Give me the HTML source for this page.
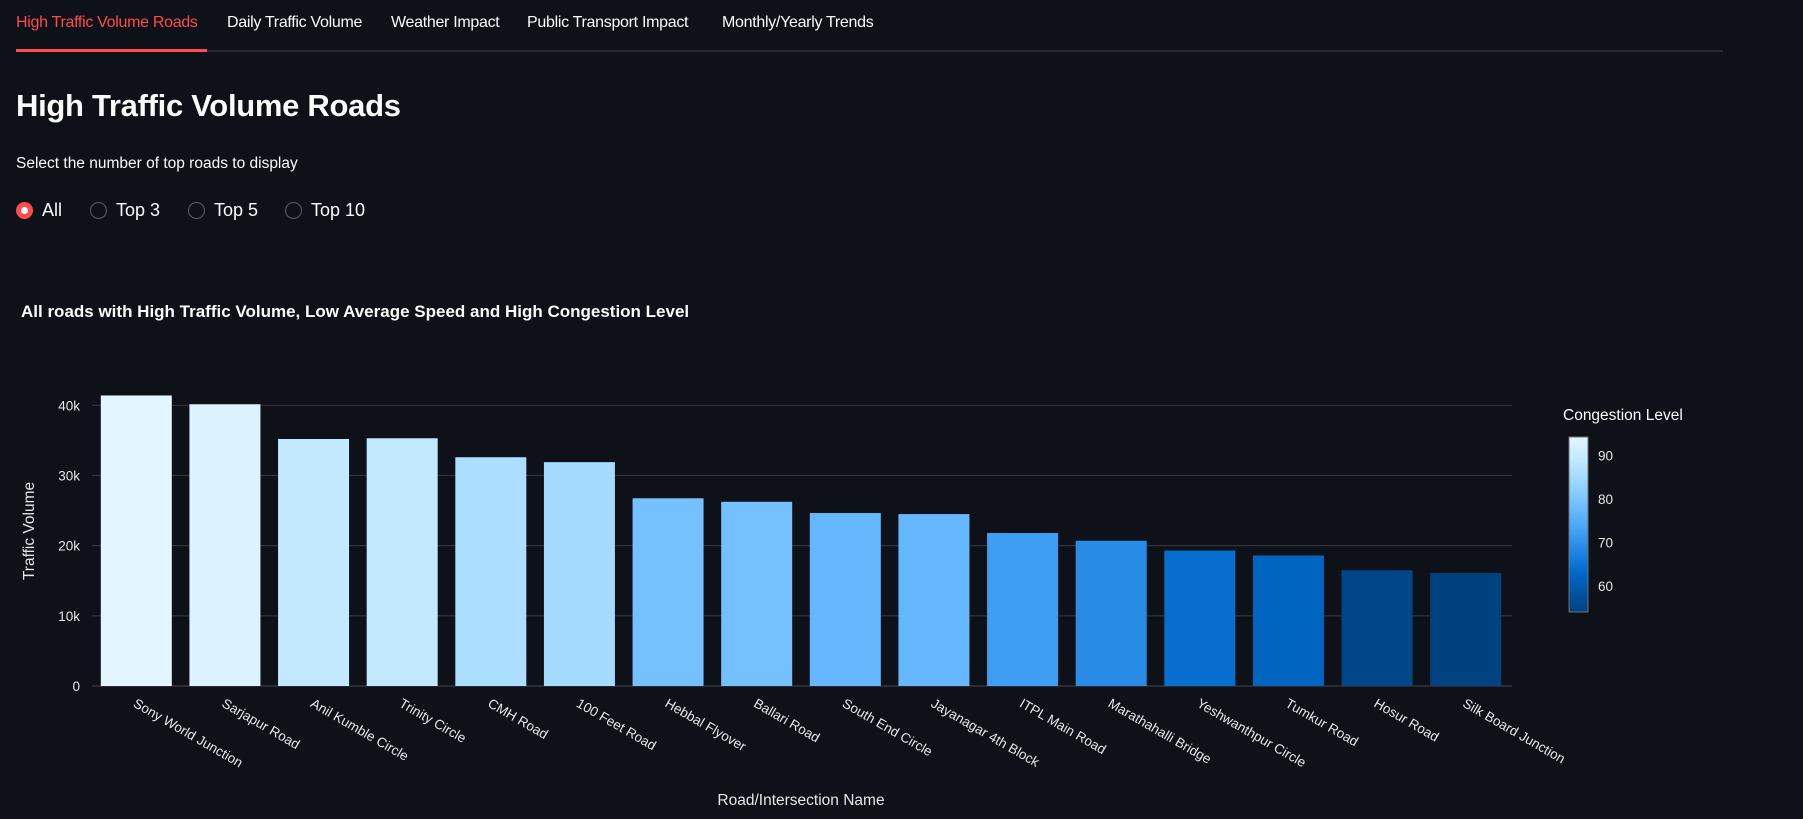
<!DOCTYPE html>
<html><head><meta charset="utf-8">
<style>
html,body{margin:0;padding:0;background:#0e1117;width:1803px;height:819px;overflow:hidden;font-family:"Liberation Sans",sans-serif;color:#fafafa}
.tab{position:absolute;top:14px;font-size:16px;color:#fafafa;letter-spacing:-0.3px}
#tabline{position:absolute;left:16px;top:50px;width:1707px;height:2px;background:#262730}
#tabsel{position:absolute;left:16px;top:49px;width:191px;height:3px;background:#ff4b4b}
h1{position:absolute;left:16px;top:88px;margin:0;font-size:31px;font-weight:bold;letter-spacing:-0.3px}
.lbl{position:absolute;left:16px;top:155px;font-size:15.5px}
.radio{position:absolute;top:200px;font-size:18px;display:flex;align-items:center}
.circ{width:17px;height:17px;border-radius:50%;border:1px solid #5a5c66;box-sizing:border-box;margin-right:9px}
.circ.on{background:#ff4b4b;border:none;display:flex;align-items:center;justify-content:center}
.circ.on::after{content:"";width:7px;height:7px;border-radius:50%;background:#fff}
</style></head><body>
<div class="tab" style="left:16px;color:#ff4b4b">High Traffic Volume Roads</div>
<div class="tab" style="left:227px">Daily Traffic Volume</div>
<div class="tab" style="left:391px">Weather Impact</div>
<div class="tab" style="left:527px">Public Transport Impact</div>
<div class="tab" style="left:722px">Monthly/Yearly Trends</div>
<div id="tabline"></div>
<div id="tabsel"></div>
<h1>High Traffic Volume Roads</h1>
<div class="lbl">Select the number of top roads to display</div>
<div class="radio" style="left:16px"><div class="circ on"></div>All</div>
<div class="radio" style="left:90px"><div class="circ"></div>Top 3</div>
<div class="radio" style="left:188px"><div class="circ"></div>Top 5</div>
<div class="radio" style="left:285px"><div class="circ"></div>Top 10</div>
<svg id="chart" width="1803" height="819" style="position:absolute;left:0;top:0"></svg>
<script>
const categories=["Sony World Junction","Sarjapur Road","Anil Kumble Circle","Trinity Circle","CMH Road","100 Feet Road","Hebbal Flyover","Ballari Road","South End Circle","Jayanagar 4th Block","ITPL Main Road","Marathahalli Bridge","Yeshwanthpur Circle","Tumkur Road","Hosur Road","Silk Board Junction"];
const volumes=[41400,40150,35200,35300,32600,31900,26750,26250,24650,24500,21800,20700,19300,18600,16500,16100];
const congestion=[94,93,89,89,86,85,79,79,77,77,72,69,64,62,55,54];
const yTicks=[0,10000,20000,30000,40000];
const yTickLabels=["0","10k","20k","30k","40k"];
const cbTicks=[60,70,80,90];
const cbMin=54,cbMax=94.2;
const palette=["#004280","#0054a3","#0068c9","#1c83e1","#3d9df3","#60b4ff","#83c9ff","#a6dcff","#c7ebff","#e4f5ff"];
const NS="http://www.w3.org/2000/svg";
const svg=document.getElementById('chart');
const L=92,R=1510,T=360,B=686;
function y(v){return B-v/40000*(B-405.3);}
const band=(R-L)/categories.length;
function x(i){return L+band*(i+0.5);}
function hex(c){return [1,3,5].map(k=>parseInt(c.substr(k,2),16));}
function color(v){let t=(v-cbMin)/(cbMax-cbMin);t=Math.max(0,Math.min(1,t))*(palette.length-1);const i=Math.min(Math.floor(t),palette.length-2),f=t-i;const a=hex(palette[i]),b=hex(palette[i+1]);return 'rgb('+a.map((q,k)=>Math.round(q+(b[k]-q)*f)).join(',')+')';}
function el(tag,attrs,txt){const e=document.createElementNS(NS,tag);for(const k in attrs)e.setAttribute(k,attrs[k]);if(txt!==undefined)e.textContent=txt;svg.appendChild(e);return e;}
let t=el('text',{x:21,y:317,fill:'#fafafa','font-size':17,'font-weight':'bold'},'All roads with High Traffic Volume, Low Average Speed and High Congestion Level');


yTicks.forEach((v,i)=>{
  const g=el('line',{x1:L,x2:R+2,y1:y(v),y2:y(v),stroke:i==0?'#3a3c46':'#31333f','stroke-width':1.2});
  
  
  const tl=el('text',{x:80,y:y(v)+5,fill:'#e6e6e6','font-size':13.5,'text-anchor':'end'},yTickLabels[i]);
  
  
});
categories.forEach((c,i)=>{
  const w=71;
  const r=el('rect',{x:x(i)-w/2,y:y(volumes[i]),width:w,height:y(0)-y(volumes[i]),fill:color(congestion[i])});
  
  
  const lx=x(i)-4,ly=B+20;
  const tl=el('text',{x:lx,y:ly,fill:'#e6e6e6','font-size':13.5,transform:'rotate(30 '+lx+' '+ly+')'},c);
  
  
});
t=el('text',{x:801,y:805,fill:'#e6e6e6','font-size':15.5,'text-anchor':'middle'},'Road/Intersection Name');


t=el('text',{x:34,y:531,fill:'#e6e6e6','font-size':15.5,'text-anchor':'middle',transform:'rotate(-90 34 531)'},'Traffic Volume');


const cbX=1569,cbW=19,cbT=437,cbB=612;
function cy(v){return cbB-(v-cbMin)/(cbMax-cbMin)*(cbB-cbT);}
const defs=el('defs',{});
const lg=document.createElementNS(NS,'linearGradient');
lg.setAttribute('id','cbg');lg.setAttribute('x1','0');lg.setAttribute('x2','0');lg.setAttribute('y1','1');lg.setAttribute('y2','0');
palette.forEach((p,i)=>{const s=document.createElementNS(NS,'stop');s.setAttribute('offset',i/(palette.length-1));s.setAttribute('stop-color',p);lg.appendChild(s);});
defs.appendChild(lg);
t=el('rect',{x:cbX,y:cbT,width:cbW,height:cbB-cbT,fill:'url(#cbg)',stroke:'#6b6f7a','stroke-width':1});


t=el('text',{x:1563,y:420,fill:'#fafafa','font-size':15.5},'Congestion Level');


cbTicks.forEach(v=>{
  const tl=el('text',{x:1598,y:cy(v)+5,fill:'#e6e6e6','font-size':13.5},String(v));
  
  
});
</script>
</body></html>
